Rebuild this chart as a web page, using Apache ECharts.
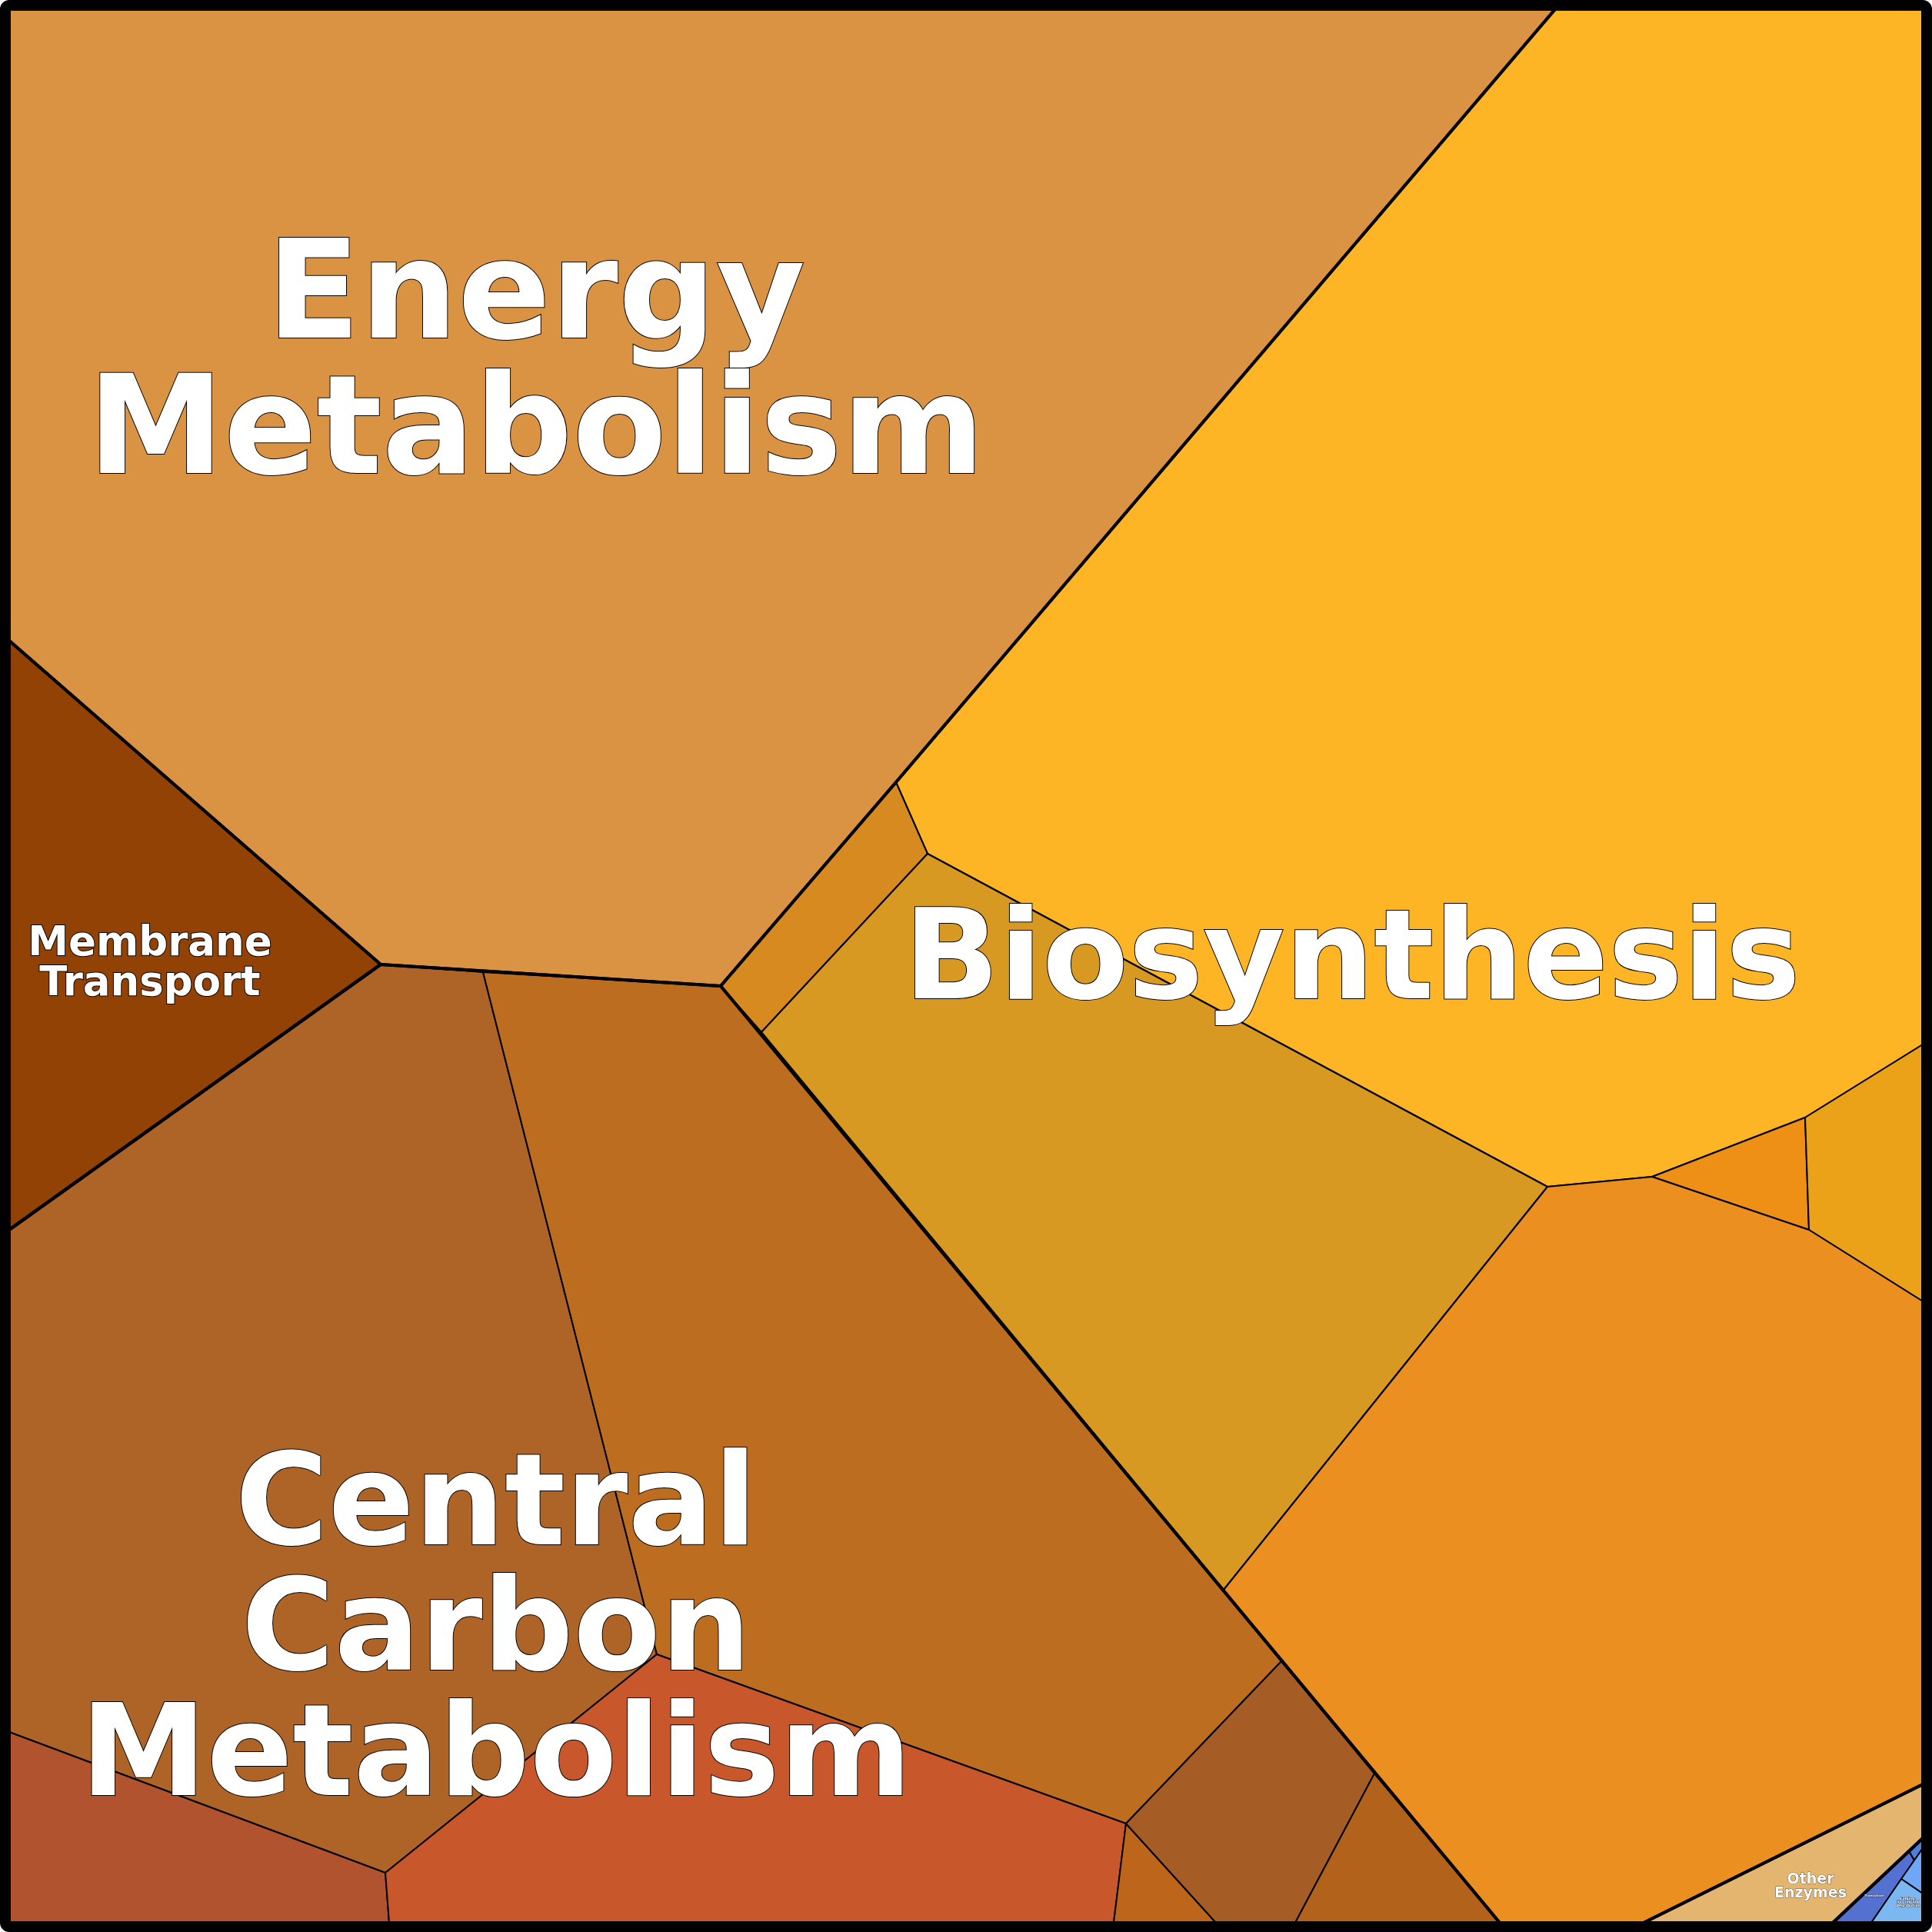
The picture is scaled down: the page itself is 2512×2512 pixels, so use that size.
<!DOCTYPE html>
<html>
<head>
<meta charset="utf-8">
<script src="https://cdn.jsdelivr.net/npm/echarts@6/dist/echarts.min.js"></script>
<style>
  html, body { margin: 0; padding: 0; background: #fff; }
  #main { width: 2512px; height: 2512px; }
</style>
</head>
<body>
<div id="main"></div>
<script>
// voronoi cells, vertices in picture units (0..2512, y down)
var cellNames = [
  'Energy Metabolism', 'Membrane Transport',
  'Central 1', 'Central 2', 'Central 3', 'Central 4', 'Central 5', 'Central 6', 'Central 7',
  'Biosynthesis 1', 'Biosynthesis 2', 'Biosynthesis 3', 'Biosynthesis 4', 'Biosynthesis 5', 'Biosynthesis 6',
  'Other Enzymes',
  'Genetic 1', 'Translation', 'Genetic 3', 'Folding, Sorting and Degradation'
];
var cellPolygons = [
  [[12,12],[2022,12],[1165,1017],[937,1282],[495,1254],[12,833]],
  [[12,833],[495,1254],[12,1599]],
  [[12,1599],[495,1254],[628,1264],[854,2151],[501,2435],[12,2252]],
  [[628,1264],[937,1282],[1666,2160],[1464,2371],[854,2151]],
  [[12,2252],[501,2435],[506,2500],[12,2500]],
  [[854,2151],[1464,2371],[1448,2500],[506,2500],[501,2435]],
  [[1464,2371],[1581,2500],[1448,2500]],
  [[1666,2160],[1787,2306],[1684,2500],[1581,2500],[1464,2371]],
  [[1787,2306],[1950,2500],[1684,2500]],
  [[2022,12],[2500,12],[2500,1358],[2347,1453],[2148,1530],[2012,1543],[1206,1110],[1165,1017]],
  [[1165,1017],[1206,1110],[990,1342],[937,1282]],
  [[1206,1110],[2012,1543],[1591,2067],[990,1342]],
  [[2148,1530],[2347,1453],[2352,1599]],
  [[2347,1453],[2500,1358],[2500,1692],[2352,1599]],
  [[2012,1543],[2148,1530],[2352,1599],[2500,1692],[2500,2320],[2137,2500],[1950,2500],[1591,2067]],
  [[2500,2320],[2500,2390],[2383,2500],[2137,2500]],
  [[2482,2407],[2500,2390],[2500,2403],[2489,2419]],
  [[2383,2500],[2482,2407],[2489,2419],[2433,2500]],
  [[2500,2403],[2500,2462],[2472,2443]],
  [[2433,2500],[2472,2443],[2500,2462],[2500,2500]]
];
var cellColors = [
  '#DA9243', '#924204',
  '#AE6427', '#BD6D20', '#B1532F', '#C8582B', '#BE651C', '#A65D25', '#B3621C',
  '#FDB525', '#D68A1F', '#D89922', '#EE9015', '#EBA118', '#EA8F20',
  '#E3B56E',
  '#4F7FDE', '#5470D0', '#6FA6F5', '#7BB8F2'
];

// top level groups
var groupLabels = ['Energy\nMetabolism', 'Membrane\nTransport', 'Central\nCarbon\nMetabolism',
  'Biosynthesis', 'Other\nEnzymes', '', 'Translation', 'Folding,\nSorting and\nDegradation'];
var groupOutlines = [
  [[12,12],[2022,12],[1165,1017],[937,1282],[495,1254],[12,833]],
  [[12,833],[495,1254],[12,1599]],
  [[495,1254],[937,1282],[1950,2500],[12,2500],[12,1599]],
  [[2022,12],[2500,12],[2500,2320],[2137,2500],[1950,2500],[937,1282],[1165,1017]],
  [[2500,2320],[2500,2390],[2383,2500],[2137,2500]],
  [[2383,2500],[2500,2390],[2500,2500]],
  null,
  null
];
var labelAnchors = [[697,481],[195,1254],[645,2128],[1758,1256],[2354,2453],[0,0],[2437,2465],[2481,2473]];
var labelSizes = [178, 53, 165, 163, 19, 0, 4, 4.5];

var myChart = echarts.init(document.getElementById('main'));

function labelText(i, api) {
  var p = api.coord(labelAnchors[i]);
  var fs = labelSizes[i];
  return {
    type: 'text',
    x: p[0], y: p[1],
    z2: 100,
    style: {
      text: groupLabels[i],
      fill: '#fff',
      stroke: '#000',
      lineWidth: fs > 40 ? 2 : 0.6,
      font: 'bold ' + fs + 'px "DejaVu Sans"',
      lineHeight: fs * 0.99,
      align: 'center',
      verticalAlign: 'middle',
      shadowColor: 'rgba(0,0,0,0.55)',
      shadowOffsetX: Math.max(1, fs * 0.018),
      shadowOffsetY: Math.max(1, fs * 0.018),
      shadowBlur: 1
    }
  };
}

myChart.setOption({
  animation: false,
  grid: { left: 0, right: 0, top: 0, bottom: 0 },
  xAxis: { type: 'value', min: 0, max: 2512, show: false },
  yAxis: { type: 'value', min: 0, max: 2512, inverse: true, show: false },
  series: [
    {
      type: 'custom',
      name: 'cells',
      coordinateSystem: 'cartesian2d',
      data: cellNames.map(function (n, i) { return { name: n, value: [i, 0] }; }),
      renderItem: function (params, api) {
        var i = params.dataIndex;
        var pts = cellPolygons[i].map(function (p) { return api.coord(p); });
        return {
          type: 'polygon',
          shape: { points: pts },
          style: { fill: cellColors[i], stroke: '#000', lineWidth: 2, lineJoin: 'round' }
        };
      }
    },
    {
      type: 'custom',
      name: 'groups',
      coordinateSystem: 'cartesian2d',
      data: groupLabels.map(function (n, i) { return { name: n, value: [i, 0] }; }),
      renderItem: function (params, api) {
        var i = params.dataIndex;
        var children = [];
        if (groupOutlines[i]) {
          children.push({
            type: 'polygon',
            shape: { points: groupOutlines[i].map(function (p) { return api.coord(p); }) },
            style: { fill: 'none', stroke: '#000', lineWidth: 4, lineJoin: 'round' }
          });
        }
        if (groupLabels[i]) children.push(labelText(i, api));
        return { type: 'group', children: children };
      }
    }
  ],
  graphic: [{
    type: 'rect',
    z: 100,
    shape: { x: 6, y: 6, width: 2500, height: 2500, r: 6 },
    style: { fill: 'none', stroke: '#000', lineWidth: 12 }
  }]
});
</script>
</body>
</html>
